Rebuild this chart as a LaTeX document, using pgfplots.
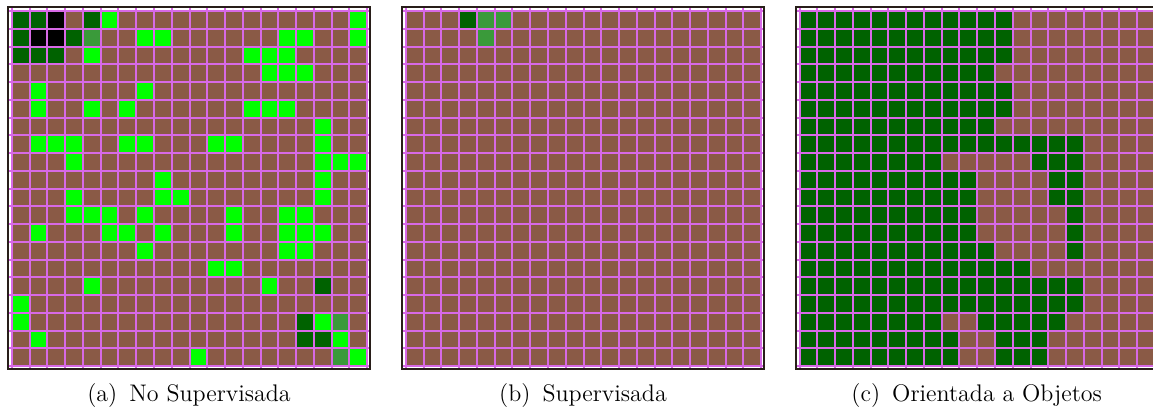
\documentclass[border=0pt]{standalone}
\usepackage{pgfplots}
\pgfplotsset{compat=1.18}
\definecolor{gridpink}{RGB}{215,105,230}
\definecolor{framecol}{RGB}{40,30,25}
\definecolor{cbrown}{RGB}{138,90,70}
\definecolor{cgreen}{RGB}{0,255,0}
\definecolor{cdark}{RGB}{0,98,0}
\definecolor{cmid}{RGB}{58,154,58}
\definecolor{cblack}{RGB}{0,0,0}
\pgfplotsset{
  cellaxis/.style={
    scale only axis, width=181pt, height=181pt,
    anchor=south west,
    xmin=-0.22, xmax=20.16, ymin=-0.24, ymax=20.17, y dir=reverse,
    xtick={0,...,20}, ytick={0,...,20}, xticklabels={}, yticklabels={},
    major tick length=0pt, xtick style={draw=none}, ytick style={draw=none},
    grid=major, major grid style={draw=gridpink, line width=1pt},
    axis on top, clip marker paths=true,
    axis line style={draw=framecol, line width=1pt},
  },
  cellplot/.style={scatter, only marks, mark=square*, mark size=4.5pt,
    point meta=explicit symbolic,
    scatter/classes={
      0={mark=square*, fill=cbrown, draw=cbrown},
      1={mark=square*, fill=cgreen, draw=cgreen},
      2={mark=square*, fill=cdark, draw=cdark},
      3={mark=square*, fill=cmid, draw=cmid},
      4={mark=square*, fill=cblack, draw=cblack}},
  },
}
% 0 = brown, 1 = bright green, 2 = dark green, 3 = medium green, 4 = black
\begin{document}
\begin{tikzpicture}
\useasboundingbox (0,0) rectangle (576.5pt,208pt);
%---------------- (a)
\begin{axis}[cellaxis, at={(4pt,23.5pt)}]
\addplot[cellplot] table[row sep=\\, meta=c, x expr={mod(\coordindex,22)-0.5}, y expr={floor(\coordindex/22)-0.5}] {
c\\
0\\0\\4\\4\\3\\2\\0\\0\\0\\0\\1\\0\\0\\0\\0\\0\\0\\0\\0\\0\\1\\0\\
0\\2\\2\\4\\0\\2\\1\\0\\0\\0\\0\\0\\0\\0\\0\\0\\0\\0\\0\\0\\1\\0\\
2\\2\\4\\4\\2\\3\\0\\0\\1\\1\\0\\0\\0\\0\\0\\0\\1\\1\\0\\0\\1\\0\\
2\\2\\2\\2\\0\\1\\0\\0\\0\\0\\0\\0\\0\\0\\1\\1\\1\\0\\0\\0\\0\\0\\
0\\0\\0\\0\\0\\0\\0\\0\\0\\0\\0\\0\\0\\0\\0\\1\\1\\1\\0\\0\\0\\0\\
0\\0\\1\\0\\0\\0\\0\\0\\1\\0\\0\\0\\0\\0\\0\\0\\0\\0\\0\\0\\0\\0\\
0\\0\\1\\0\\0\\1\\0\\1\\0\\0\\0\\0\\0\\0\\1\\1\\1\\0\\0\\0\\0\\0\\
0\\0\\0\\0\\0\\0\\0\\0\\0\\0\\0\\0\\0\\0\\0\\0\\0\\0\\1\\0\\0\\0\\
0\\0\\1\\1\\1\\0\\0\\1\\1\\0\\0\\0\\1\\1\\0\\0\\0\\0\\1\\0\\0\\0\\
0\\0\\0\\0\\1\\0\\0\\0\\0\\0\\0\\0\\0\\0\\0\\0\\0\\0\\1\\1\\1\\0\\
0\\0\\0\\0\\0\\0\\0\\0\\0\\1\\0\\0\\0\\0\\0\\0\\0\\0\\1\\0\\0\\0\\
0\\0\\0\\0\\1\\0\\0\\0\\0\\1\\1\\0\\0\\0\\0\\0\\0\\0\\1\\0\\0\\0\\
0\\0\\0\\0\\1\\1\\1\\0\\1\\0\\0\\0\\0\\1\\0\\0\\1\\1\\0\\0\\0\\0\\
0\\0\\1\\0\\0\\0\\1\\1\\0\\1\\0\\0\\0\\1\\0\\0\\1\\1\\1\\0\\0\\0\\
0\\0\\0\\0\\0\\0\\0\\0\\1\\0\\0\\0\\0\\0\\0\\0\\1\\1\\0\\0\\0\\0\\
0\\0\\0\\0\\0\\0\\0\\0\\0\\0\\0\\0\\1\\1\\0\\0\\0\\0\\0\\0\\0\\0\\
1\\0\\0\\0\\0\\1\\0\\0\\0\\0\\0\\0\\0\\0\\0\\1\\0\\0\\2\\0\\0\\0\\
0\\1\\0\\0\\0\\0\\0\\0\\0\\0\\0\\0\\0\\0\\0\\0\\0\\0\\0\\0\\0\\0\\
0\\1\\0\\0\\0\\0\\0\\0\\0\\0\\0\\0\\0\\0\\0\\0\\0\\2\\1\\3\\0\\0\\
0\\0\\1\\0\\0\\0\\0\\0\\0\\0\\0\\0\\0\\0\\0\\0\\0\\2\\2\\1\\0\\0\\
0\\0\\0\\0\\0\\0\\0\\0\\0\\0\\0\\1\\0\\0\\0\\0\\0\\0\\0\\3\\1\\0\\
0\\0\\0\\0\\0\\0\\0\\0\\0\\0\\0\\0\\0\\0\\0\\0\\0\\0\\4\\0\\0\\0\\
};
\end{axis}
%---------------- (b)
\begin{axis}[cellaxis, at={(201pt,23.5pt)}]
\addplot[cellplot] table[row sep=\\, meta=c, x expr={mod(\coordindex,22)-0.5}, y expr={floor(\coordindex/22)-0.5}] {
c\\
0\\0\\0\\0\\2\\3\\0\\0\\0\\0\\0\\0\\0\\0\\0\\0\\0\\0\\0\\0\\0\\0\\
0\\0\\0\\0\\2\\3\\3\\0\\0\\0\\0\\0\\0\\0\\0\\0\\0\\0\\0\\0\\0\\0\\
0\\0\\0\\0\\0\\3\\0\\0\\0\\0\\0\\0\\0\\0\\0\\0\\0\\0\\0\\0\\0\\0\\
0\\0\\0\\0\\0\\0\\0\\0\\0\\0\\0\\0\\0\\0\\0\\0\\0\\0\\0\\0\\0\\0\\
0\\0\\0\\0\\0\\0\\0\\0\\0\\0\\0\\0\\0\\0\\0\\0\\0\\0\\0\\0\\0\\0\\
0\\0\\0\\0\\0\\0\\0\\0\\0\\0\\0\\0\\0\\0\\0\\0\\0\\0\\0\\0\\0\\0\\
0\\0\\0\\0\\0\\0\\0\\0\\0\\0\\0\\0\\0\\0\\0\\0\\0\\0\\0\\0\\0\\0\\
0\\0\\0\\0\\0\\0\\0\\0\\0\\0\\0\\0\\0\\0\\0\\0\\0\\0\\0\\0\\0\\0\\
0\\0\\0\\0\\0\\0\\0\\0\\0\\0\\0\\0\\0\\0\\0\\0\\0\\0\\0\\0\\0\\0\\
0\\0\\0\\0\\0\\0\\0\\0\\0\\0\\0\\0\\0\\0\\0\\0\\0\\0\\0\\0\\0\\0\\
0\\0\\0\\0\\0\\0\\0\\0\\0\\0\\0\\0\\0\\0\\0\\0\\0\\0\\0\\0\\0\\0\\
0\\0\\0\\0\\0\\0\\0\\0\\0\\0\\0\\0\\0\\0\\0\\0\\0\\0\\0\\0\\0\\0\\
0\\0\\0\\0\\0\\0\\0\\0\\0\\0\\0\\0\\0\\0\\0\\0\\0\\0\\0\\0\\0\\0\\
0\\0\\0\\0\\0\\0\\0\\0\\0\\0\\0\\0\\0\\0\\0\\0\\0\\0\\0\\0\\0\\0\\
0\\0\\0\\0\\0\\0\\0\\0\\0\\0\\0\\0\\0\\0\\0\\0\\0\\0\\0\\0\\0\\0\\
0\\0\\0\\0\\0\\0\\0\\0\\0\\0\\0\\0\\0\\0\\0\\0\\0\\0\\0\\0\\0\\0\\
0\\0\\0\\0\\0\\0\\0\\0\\0\\0\\0\\0\\0\\0\\0\\0\\0\\0\\0\\0\\0\\0\\
0\\0\\0\\0\\0\\0\\0\\0\\0\\0\\0\\0\\0\\0\\0\\0\\0\\0\\0\\0\\0\\0\\
0\\0\\0\\0\\0\\0\\0\\0\\0\\0\\0\\0\\0\\0\\0\\0\\0\\0\\0\\0\\0\\0\\
0\\0\\0\\0\\0\\0\\0\\0\\0\\0\\0\\0\\0\\0\\0\\0\\0\\0\\0\\0\\0\\0\\
0\\0\\0\\0\\0\\0\\0\\0\\0\\0\\0\\0\\0\\0\\0\\0\\0\\0\\0\\0\\0\\0\\
0\\0\\0\\0\\0\\0\\0\\0\\0\\0\\0\\0\\0\\0\\0\\0\\0\\0\\0\\0\\0\\0\\
};
\end{axis}
%---------------- (c)
\begin{axis}[cellaxis, at={(397.85pt,23.5pt)}]
\addplot[cellplot] table[row sep=\\, meta=c, x expr={mod(\coordindex,22)-0.5}, y expr={floor(\coordindex/22)-0.5}] {
c\\
2\\2\\2\\2\\2\\2\\2\\2\\2\\2\\2\\2\\2\\0\\0\\0\\0\\0\\0\\0\\0\\0\\
2\\2\\2\\2\\2\\2\\2\\2\\2\\2\\2\\2\\2\\0\\0\\0\\0\\0\\0\\0\\0\\0\\
2\\2\\2\\2\\2\\2\\2\\2\\2\\2\\2\\2\\2\\0\\0\\0\\0\\0\\0\\0\\0\\0\\
2\\2\\2\\2\\2\\2\\2\\2\\2\\2\\2\\2\\2\\0\\0\\0\\0\\0\\0\\0\\0\\0\\
2\\2\\2\\2\\2\\2\\2\\2\\2\\2\\2\\2\\0\\0\\0\\0\\0\\0\\0\\0\\0\\0\\
2\\2\\2\\2\\2\\2\\2\\2\\2\\2\\2\\2\\2\\0\\0\\0\\0\\0\\0\\0\\0\\0\\
2\\2\\2\\2\\2\\2\\2\\2\\2\\2\\2\\2\\2\\0\\0\\0\\0\\0\\0\\0\\0\\0\\
2\\2\\2\\2\\2\\2\\2\\2\\2\\2\\2\\2\\0\\0\\0\\0\\0\\0\\0\\0\\0\\0\\
2\\2\\2\\2\\2\\2\\2\\2\\2\\2\\2\\2\\2\\2\\2\\2\\2\\0\\0\\0\\0\\0\\
2\\2\\2\\2\\2\\2\\2\\2\\2\\0\\0\\0\\0\\0\\2\\2\\2\\0\\0\\0\\0\\0\\
2\\2\\2\\2\\2\\2\\2\\2\\2\\2\\2\\0\\0\\0\\0\\2\\2\\0\\0\\0\\0\\0\\
2\\2\\2\\2\\2\\2\\2\\2\\2\\2\\2\\0\\0\\0\\0\\2\\2\\0\\0\\0\\0\\0\\
2\\2\\2\\2\\2\\2\\2\\2\\2\\2\\2\\0\\0\\0\\0\\0\\2\\0\\0\\0\\0\\0\\
2\\2\\2\\2\\2\\2\\2\\2\\2\\2\\2\\0\\0\\0\\0\\0\\2\\0\\0\\0\\0\\0\\
2\\2\\2\\2\\2\\2\\2\\2\\2\\2\\2\\2\\0\\0\\0\\0\\2\\0\\0\\0\\0\\0\\
2\\2\\2\\2\\2\\2\\2\\2\\2\\2\\2\\2\\2\\2\\0\\0\\0\\0\\0\\0\\0\\0\\
2\\2\\2\\2\\2\\2\\2\\2\\2\\2\\2\\2\\2\\2\\2\\2\\2\\0\\0\\0\\0\\0\\
2\\2\\2\\2\\2\\2\\2\\2\\2\\2\\2\\2\\2\\2\\2\\2\\2\\0\\0\\0\\0\\0\\
2\\2\\2\\2\\2\\2\\2\\2\\2\\0\\0\\2\\2\\2\\2\\2\\0\\0\\0\\0\\0\\0\\
2\\2\\2\\2\\2\\2\\2\\2\\2\\2\\0\\0\\2\\2\\2\\0\\0\\0\\0\\0\\0\\0\\
2\\2\\2\\2\\2\\2\\2\\2\\2\\2\\0\\0\\2\\2\\2\\0\\0\\0\\0\\0\\0\\0\\
2\\2\\2\\2\\2\\2\\2\\2\\2\\2\\0\\0\\0\\0\\2\\2\\0\\0\\0\\0\\0\\0\\
};
\end{axis}
\begin{scope}[every node/.style={anchor=base, font=\fontsize{12}{14}\selectfont, inner sep=0pt}]
\node at (94.5pt,7pt) {(a)\enspace No Supervisada};
\node at (291.5pt,7pt) {(b)\enspace Supervisada};
\node at (488.35pt,7pt) {(c)\enspace Orientada a Objetos};
\end{scope}
\end{tikzpicture}
\end{document}
